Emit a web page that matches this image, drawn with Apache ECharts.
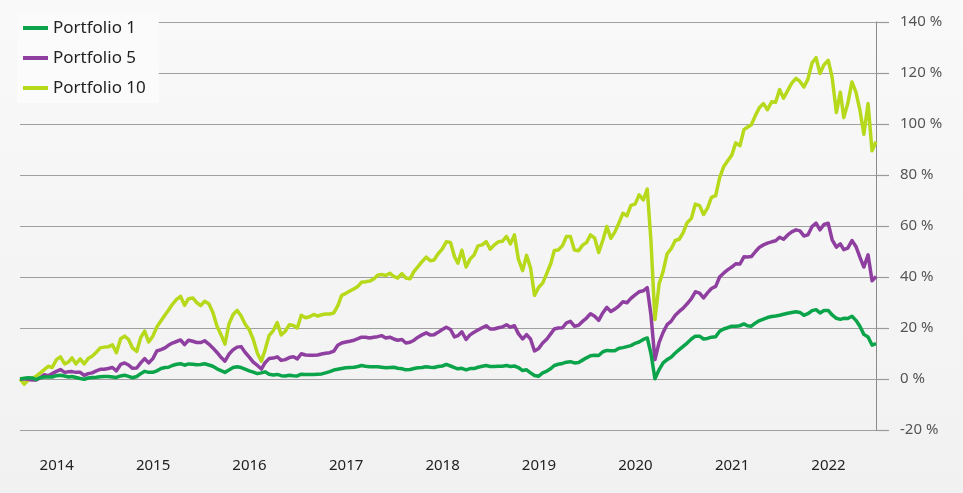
<!DOCTYPE html>
<html>
<head>
<meta charset="utf-8">
<script src="https://cdn.jsdelivr.net/npm/echarts@6/dist/echarts.min.js"></script>
<style>
html,body{margin:0;padding:0;background:#f5f5f5;}
#c{width:963px;height:493px;}
</style>
</head>
<body>
<div id="c"></div>
<script>
// Semi-monthly observation grid: the 15th and the last day of each month, Aug 2013 .. Jun 2022
const firstMonth = [2013, 8];
const monthCount = 107;

const seriesNames = ['Portfolio 1', 'Portfolio 5', 'Portfolio 10'];

const portfolio1 = [
  0.0, 0.3, 0.5, 0.4, -0.2, 0.5, 0.8, 0.8, 0.8, 1.3, 1.5, 1.2,
  0.8, 1.0, 0.6, 0.2, -0.1, 0.4, 0.6, 0.7, 0.9, 1.0, 1.0, 0.8,
  0.6, 1.2, 1.5, 1.0, 0.5, 1.0, 2.1, 3.0, 2.6, 2.6, 3.2, 4.1,
  4.5, 4.6, 5.3, 5.8, 6.0, 5.4, 5.9, 5.8, 5.6, 5.7, 6.0, 5.5,
  5.0, 4.0, 3.3, 2.6, 3.5, 4.5, 4.8, 4.5, 3.9, 3.2, 2.7, 2.1,
  2.4, 2.8, 1.9, 1.6, 1.8, 1.3, 1.2, 1.5, 1.3, 1.2, 1.9, 1.8,
  1.8, 1.8, 1.9, 2.0, 2.4, 2.9, 3.5, 3.8, 4.1, 4.4, 4.5, 4.6,
  4.9, 5.3, 5.0, 4.8, 4.8, 4.8, 4.6, 4.4, 4.5, 4.6, 4.2, 4.0,
  3.6, 3.7, 4.1, 4.4, 4.5, 4.8, 4.6, 4.5, 4.9, 5.1, 5.7, 5.1,
  4.5, 4.0, 4.2, 3.6, 4.1, 4.1, 4.6, 5.0, 5.3, 4.9, 4.9, 5.0,
  5.0, 5.3, 4.9, 5.1, 4.5, 3.3, 3.6, 2.4, 1.4, 1.1, 2.4, 3.1,
  4.1, 5.3, 5.8, 6.1, 6.6, 6.8, 6.3, 6.5, 7.4, 8.3, 9.1, 9.3,
  9.2, 10.7, 11.2, 11.1, 11.1, 12.1, 12.3, 12.7, 13.1, 14.0, 14.5, 15.5,
  16.1, 10.0, 0.1, 3.7, 6.3, 7.6, 8.5, 10.2, 11.5, 12.8, 14.1, 15.7,
  16.8, 16.8, 15.7, 15.9, 16.4, 16.6, 18.7, 19.6, 20.1, 20.7, 20.7, 20.9,
  21.6, 20.9, 20.7, 22.0, 22.9, 23.5, 24.1, 24.5, 24.7, 25.0, 25.4, 25.8,
  26.1, 26.4, 26.1, 25.0, 25.6, 26.8, 27.2, 25.9, 26.9, 26.9, 25.1, 23.8,
  23.4, 23.8, 23.7, 24.6, 23.0, 20.7, 17.5, 16.5, 13.3, 13.9
];

const portfolio5 = [
  0.0, 0.0, -0.1, -0.4, -0.4, 0.5, 1.7, 1.3, 2.1, 3.0, 3.7, 2.6,
  2.8, 2.9, 2.6, 2.6, 1.4, 2.1, 2.4, 3.2, 3.8, 3.8, 4.1, 4.5,
  3.2, 5.7, 6.3, 5.5, 4.2, 4.3, 6.3, 8.0, 6.3, 8.0, 11.0, 11.5,
  12.2, 13.2, 14.1, 14.7, 15.3, 13.5, 15.2, 14.8, 14.3, 14.3, 15.0, 13.7,
  12.2, 10.4, 8.5, 7.0, 9.7, 11.5, 12.5, 12.7, 10.5, 8.6, 6.6, 5.3,
  3.9, 6.4, 8.0, 8.2, 8.7, 7.3, 7.6, 8.4, 8.7, 7.9, 9.9, 9.4,
  9.3, 9.3, 9.4, 9.8, 10.1, 10.3, 10.9, 13.2, 14.1, 14.5, 14.8, 15.2,
  15.8, 16.4, 16.4, 16.1, 16.4, 16.6, 17.0, 16.1, 16.4, 15.7, 15.2, 15.5,
  14.1, 14.4, 15.2, 16.4, 17.3, 18.1, 17.3, 17.4, 18.3, 19.4, 20.3, 19.4,
  16.5, 17.0, 18.5, 15.5, 17.3, 18.3, 19.2, 20.1, 20.9, 19.6, 19.6, 20.1,
  20.4, 21.3, 20.3, 20.9, 17.8, 15.7, 17.4, 15.7, 11.0, 12.0, 14.1, 15.7,
  17.8, 19.6, 20.0, 20.1, 22.0, 22.6, 20.7, 21.1, 22.6, 23.9, 25.6, 24.6,
  23.0, 26.0, 28.1, 26.5, 27.4, 28.7, 30.3, 29.9, 31.6, 33.0, 34.2, 34.6,
  35.8, 25.0, 7.6, 14.4, 18.3, 21.3, 22.6, 25.0, 26.5, 27.8, 29.5, 31.5,
  34.2, 33.7, 31.8, 33.8, 35.5, 36.3, 40.0, 41.5, 42.8, 43.9, 45.2, 45.1,
  47.9, 47.8, 48.0, 50.0, 51.7, 52.6, 53.3, 53.8, 54.2, 55.6, 54.8, 56.5,
  57.7, 58.5, 58.1, 56.1, 56.5, 59.8, 61.1, 58.5, 60.6, 61.1, 54.6, 51.7,
  53.0, 50.7, 51.3, 54.3, 52.0, 47.8, 43.9, 48.7, 38.5, 40.2
];

const portfolio10 = [
  0.0, -2.0, -0.5, 0.3, 1.1, 2.4, 3.7, 5.0, 4.5, 7.6, 8.7, 5.9,
  6.7, 8.3, 5.9, 7.9, 5.9, 8.0, 8.9, 10.5, 12.2, 12.5, 12.6, 13.4,
  10.3, 15.8, 16.8, 15.5, 12.2, 10.8, 16.2, 18.8, 14.5, 16.8, 20.4, 22.8,
  25.1, 27.0, 29.3, 31.2, 32.4, 28.9, 31.5, 31.8, 30.0, 28.8, 30.5, 29.5,
  26.2, 20.7, 17.4, 13.7, 21.5, 25.3, 26.9, 24.8, 21.6, 19.3, 15.6, 10.0,
  7.0, 11.5, 17.0, 19.0, 22.1, 17.3, 18.7, 21.3, 21.0, 20.0, 25.0, 24.0,
  24.4, 25.3, 24.7, 25.2, 25.5, 25.5, 25.9, 28.7, 32.8, 33.6, 34.5, 35.4,
  36.4, 37.9, 38.1, 38.4, 39.2, 40.7, 41.0, 40.6, 41.5, 40.2, 39.6, 41.3,
  39.6, 39.3, 42.2, 44.1, 46.0, 47.8, 46.4, 46.7, 49.1, 51.0, 53.8, 53.5,
  48.0, 45.4, 50.5, 43.9, 47.0, 48.6, 52.2, 52.6, 53.9, 50.9, 52.5, 53.8,
  54.0, 55.9, 53.0, 56.5, 47.0, 42.5, 48.5, 43.5, 32.8, 36.0, 37.6, 41.5,
  45.4, 50.4, 50.6, 52.3, 55.9, 55.9, 50.6, 50.3, 52.5, 53.5, 56.5, 55.2,
  49.6, 54.5, 59.8, 55.2, 57.6, 61.3, 65.0, 64.0, 68.1, 68.6, 72.2, 70.2,
  74.5, 54.0, 23.3, 37.4, 42.2, 49.1, 51.0, 54.3, 54.8, 57.4, 61.3, 63.0,
  68.6, 68.0, 64.5, 67.0, 71.2, 71.9, 79.0, 83.2, 85.5, 87.8, 92.6, 91.5,
  97.8, 98.7, 99.7, 103.5, 106.5, 108.0, 105.6, 108.7, 108.5, 113.5, 110.1, 113.2,
  116.0, 117.9, 116.7, 114.5, 117.5, 124.0, 126.0, 119.8, 123.2, 125.0, 118.3, 104.5,
  112.5, 102.5, 108.0, 116.5, 112.5, 105.5, 96.0, 108.0, 89.5, 93.1
];

const yTicks = [-20, 0, 20, 40, 60, 80, 100, 120, 140];

// build the observation dates (15th and month end)
const dates = [];
for (let i = 0; i < monthCount; i++) {
  const y = firstMonth[0] + Math.floor((firstMonth[1] - 1 + i) / 12);
  const m = (firstMonth[1] - 1 + i) % 12;
  dates.push(new Date(y, m, 15).getTime());
  dates.push(new Date(y, m + 1, 0).getTime());
}

const FONT = '"Noto Sans", "Open Sans", sans-serif';
const colors = ['#0ba44a', '#8f3f9f', '#b6d91c'];
const values = [portfolio1, portfolio5, portfolio10];

const chart = echarts.init(document.getElementById('c'), null, {renderer: 'canvas'});
const YEAR = 365 * 24 * 3600 * 1000;

chart.setOption({
  animation: false,
  backgroundColor: new echarts.graphic.LinearGradient(0, 0, 0, 1, [
    {offset: 0, color: '#f9f9f9'},
    {offset: 1, color: '#f1f1f1'}
  ]),
  textStyle: {fontFamily: FONT},
  grid: {left: 20, right: 87, top: 22, bottom: 63},
  legend: {
    orient: 'vertical',
    left: 17,
    top: 13,
    icon: 'rect',
    itemWidth: 25,
    itemHeight: 4,
    itemGap: 12,
    padding: [6, 13, 6, 6],
    backgroundColor: '#fbfbfb',
    data: seriesNames,
    textStyle: {fontSize: 17, color: '#222', fontFamily: FONT, lineHeight: 18}
  },
  xAxis: {
    type: 'time',
    min: dates[0],
    max: dates[dates.length - 1],
    minInterval: YEAR,
    maxInterval: YEAR + 24 * 3600 * 1000,
    axisLine: {show: false},
    axisTick: {show: false},
    splitLine: {show: false},
    axisLabel: {
      formatter: function (v) { return String(new Date(v).getFullYear()); },
      color: '#222',
      fontSize: 15,
      margin: 28,
      fontFamily: FONT,
      showMinLabel: false,
      showMaxLabel: false
    }
  },
  yAxis: {
    type: 'value',
    position: 'right',
    min: yTicks[0],
    max: yTicks[yTicks.length - 1],
    interval: 20,
    axisLine: {show: true, lineStyle: {color: '#8a8a8a', width: 1}},
    axisTick: {show: true, length: 13, lineStyle: {color: '#9a9a9a', width: 1.2}},
    splitLine: {show: true, lineStyle: {color: '#9f9f9f', width: 1.2}},
    axisLabel: {formatter: '{value} %', color: '#555', fontSize: 15, margin: 24, fontFamily: FONT}
  },
  series: seriesNames.map(function (name, s) {
    return {
      name: name,
      type: 'line',
      showSymbol: false,
      symbol: 'none',
      z: 5 - s,
      data: dates.map(function (d, i) { return [d, values[s][i]]; }),
      lineStyle: {width: 3.5, color: colors[s], join: 'round'},
      itemStyle: {color: colors[s]}
    };
  })
});
</script>
</body>
</html>
